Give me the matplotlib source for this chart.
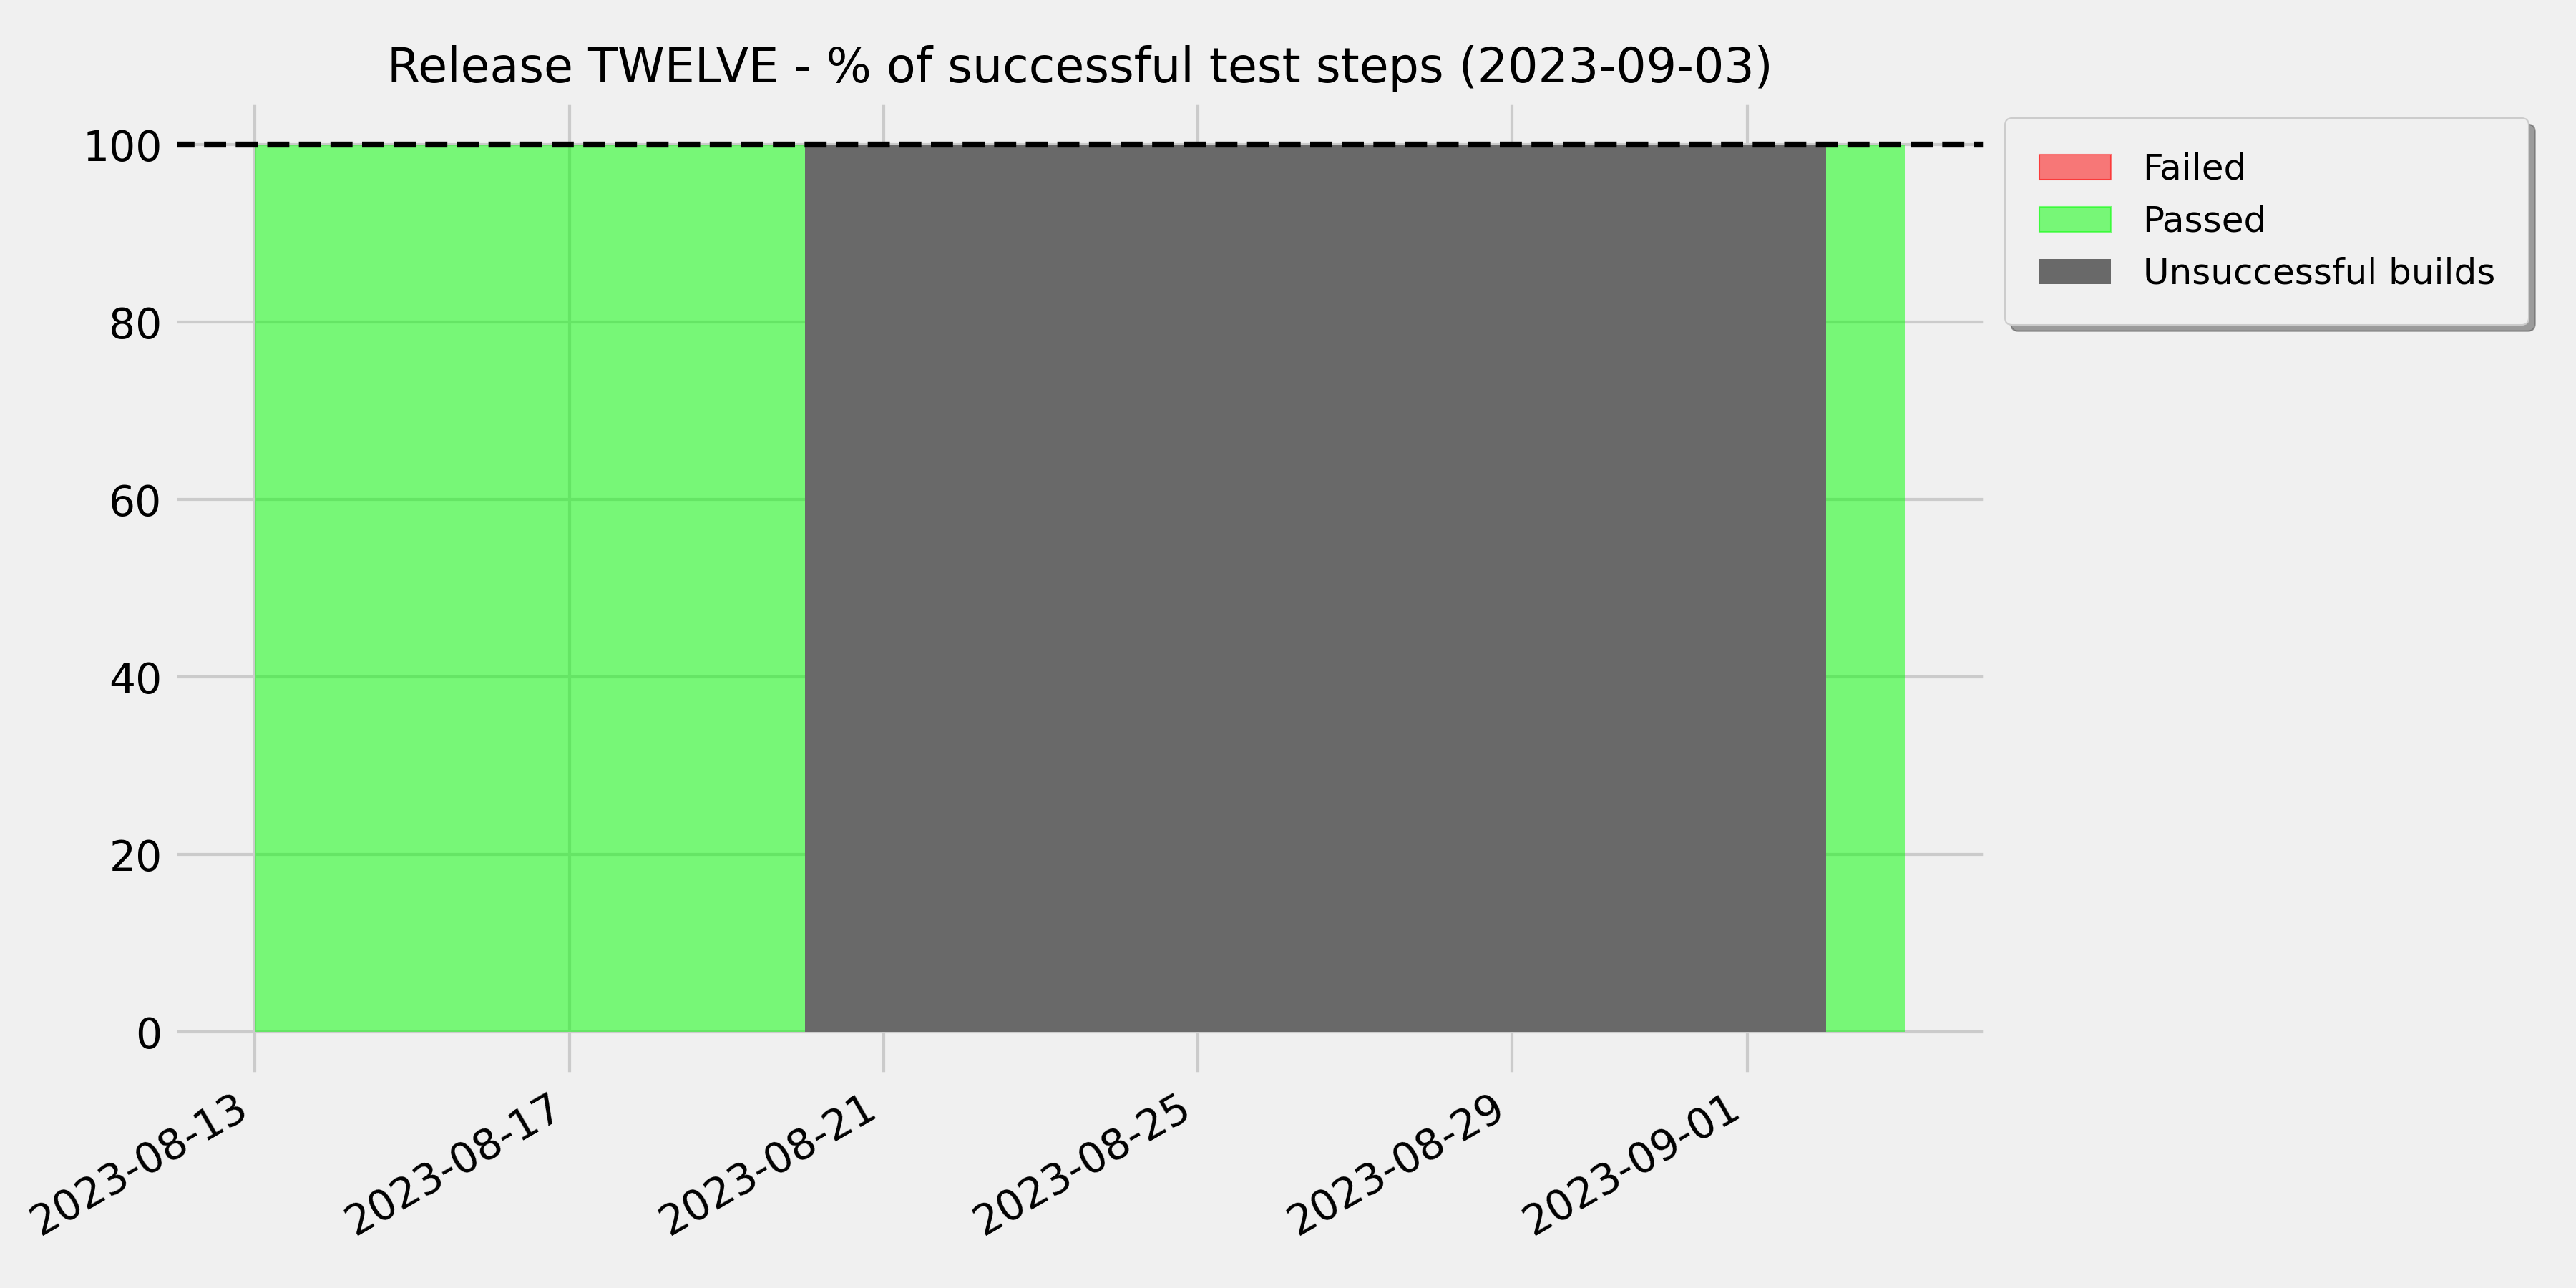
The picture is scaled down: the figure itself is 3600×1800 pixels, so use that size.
import numpy as np
import pandas as pd
import matplotlib
matplotlib.use("Agg")
import matplotlib.pyplot as plt
import matplotlib.dates as mdates
from matplotlib.patches import Patch

plt.style.use('fivethirtyeight')

release = "TWELVE"
report_date = "2023-09-03"

days = ["2023-08-13", "2023-08-14", "2023-08-15", "2023-08-16", "2023-08-17",
        "2023-08-18", "2023-08-19", "2023-08-20", "2023-08-21", "2023-08-22",
        "2023-08-23", "2023-08-24", "2023-08-25", "2023-08-26", "2023-08-27",
        "2023-08-28", "2023-08-29", "2023-08-30", "2023-08-31", "2023-09-01",
        "2023-09-02", "2023-09-03"]
passed = [100, 100, 100, 100, 100, 100, 100, 0, 0, 0, 0,
          0, 0, 0, 0, 0, 0, 0, 0, 0, 100, 100]
failed = [0, 0, 0, 0, 0, 0, 0, 0, 0, 0, 0,
          0, 0, 0, 0, 0, 0, 0, 0, 0, 0, 0]
build_ok = [1, 1, 1, 1, 1, 1, 1, 0, 0, 0, 0,
            0, 0, 0, 0, 0, 0, 0, 0, 0, 1, 1]

dates = pd.to_datetime(days)
unsuccessful = np.where(np.array(build_ok) == 0, 100, 0)

fig, ax = plt.subplots(figsize=(12, 6), dpi=300)

ax.stackplot(dates, passed, failed, colors=['lime', 'red'], alpha=0.5, step='post')
ax.fill_between(dates, 0, unsuccessful, step='post', color='dimgray', lw=0)
ax.axhline(100, color='black', linestyle='--', linewidth=2)

# let the y axis keep its default margin below 0
for c in ax.collections:
    c.sticky_edges.y.clear()
ax.autoscale_view()

ax.xaxis.set_major_formatter(mdates.DateFormatter('%Y-%m-%d'))
fig.autofmt_xdate()
fig.subplots_adjust(left=0.067, right=0.7714, top=0.922, bottom=0.1644)

ax.set_title("Release %s - %% of successful test steps (%s)" % (release, report_date), fontsize=16)

handles = [Patch(facecolor='red', edgecolor='red', alpha=0.5, label='Failed'),
           Patch(facecolor='lime', edgecolor='lime', alpha=0.5, label='Passed'),
           Patch(facecolor='dimgray', label='Unsuccessful builds')]
ax.legend(handles=handles, loc='upper left', bbox_to_anchor=(1.0, 1.0),
          fontsize=12, shadow=True, fancybox=True, borderpad=0.95, handletextpad=0.9)

plt.savefig('out.png', dpi=300, facecolor=fig.get_facecolor())
